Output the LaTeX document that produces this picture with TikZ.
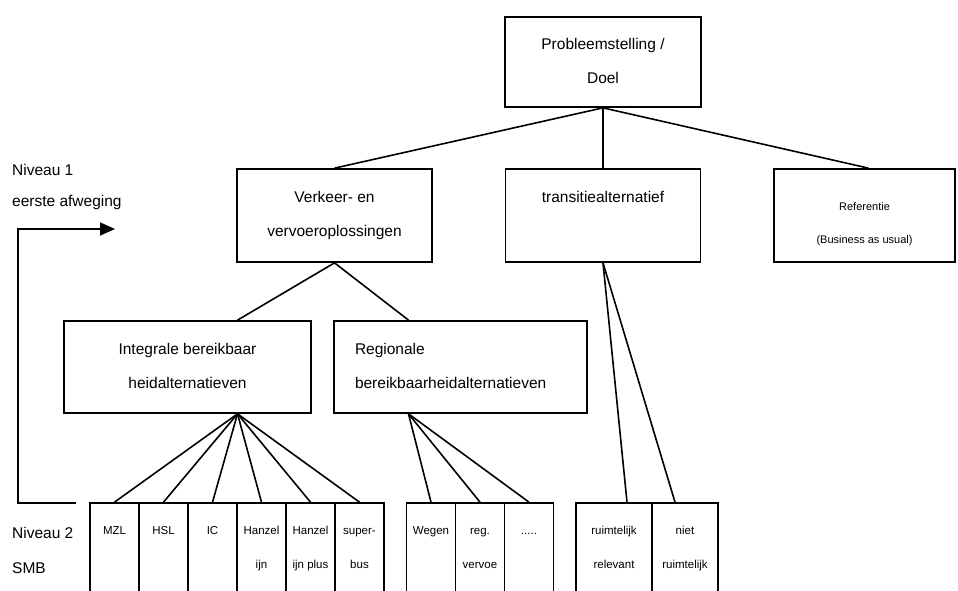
\documentclass[tikz,border=0pt]{standalone}
\usepackage{fontspec}
\setmainfont{Liberation Sans}
\usetikzlibrary{arrows.meta}
\newcommand\bigtxt{\fontsize{15.5}{34}\selectfont}
\newcommand\smalltxt{\fontsize{11.5}{34}\selectfont}
\newcommand\hl{\vphantom{Ayg}}
\tikzset{
  box/.style={draw, line width=1.7pt, inner sep=0pt, align=center, font=\bigtxt},
  cell/.style={draw, line width=1.7pt, inner sep=0pt, align=center, font=\smalltxt,
    minimum width=49pt, minimum height=91pt},
  link/.style={line width=1.6pt},
  side/.style={anchor=west, font=\fontsize{15.5}{18}\selectfont, inner sep=0pt}
}
\begin{document}
\begin{tikzpicture}[x=1pt, y=-1pt]
\useasboundingbox (0,0) rectangle (958,591);

% level 0
\node[box, minimum width=196pt, minimum height=90pt] (prob) at (603,62)
  {\hl Probleemstelling /\\\hl Doel};

% level 1
\node[box, minimum width=195pt, minimum height=93pt] (verk) at (334.5,215.5)
  {\hl Verkeer- en\\\hl vervoeroplossingen};
\node[box, minimum width=195pt, minimum height=93pt] (trans) at (603,215.5)
  {\hl transitiealternatief\\\hl};
\node[box, minimum width=181pt, minimum height=93pt, font=\fontsize{11}{33}\selectfont] (ref) at (864.5,215.5)
  {\rule{0pt}{26pt}Referentie\\\hl(Business as usual)};

% level 2
\node[box, minimum width=247pt, minimum height=92pt] (integ) at (187.5,367)
  {\hl Integrale bereikbaar\\\hl heidalternatieven};
\node[box, minimum width=253pt, minimum height=92pt, align=left, text width=211pt] (regio) at (460.5,367)
  {\hl Regionale\\\hl bereikbaarheidalternatieven};

% level 3 (boxes run off the lower edge)
\node[cell] (mzl)   at (114.5,548.5) {\hl MZL\\\hl};
\node[cell] (hsl)   at (163.5,548.5) {\hl HSL\\\hl};
\node[cell] (ic)    at (212.5,548.5) {\hl IC\\\hl};
\node[cell] (hz)    at (261.5,548.5) {\hl Hanzel\\\hl ijn};
\node[cell] (hzp)   at (310.5,548.5) {\hl Hanzel\\\hl ijn plus};
\node[cell] (sbus)  at (359.5,548.5) {\hl super-\\\hl bus};
\node[cell] (weg)   at (431,548.5)   {\hl Wegen\\\hl};
\node[cell] (regv)  at (480,548.5)   {\hl reg.\\\hl vervoe};
\node[cell] (dots)  at (529,548.5)   {\hl .....\\\hl};
\node[cell, minimum width=76pt] (ruim) at (614,548.5) {\hl ruimtelijk\\\hl relevant};
\node[cell, minimum width=66pt] (niet) at (685,548.5) {\hl niet\\\hl ruimtelijk};

% connectors
\draw[link] (prob.south) -- (verk.north);
\draw[link] (prob.south) -- (trans.north);
\draw[link] (prob.south) -- ([xshift=4pt]ref.north);
\draw[link] (verk.south) -- ([xshift=50pt]integ.north);
\draw[link] (verk.south) -- ([xshift=-52pt]regio.north);
\foreach \t in {mzl,hsl,ic,hz,hzp,sbus}
  \draw[link] ([xshift=50pt]integ.south) -- (\t.north);
\foreach \t in {weg,regv,dots}
  \draw[link] ([xshift=-52pt]regio.south) -- (\t.north);
\draw[link] (trans.south) -- ([xshift=13pt]ruim.north);
\draw[link] (trans.south) -- ([xshift=-10pt]niet.north);

% level markers
\node[side] (n1)  at (12,170) {Niveau 1};
\node[side] (n1b) at (12,202) {eerste afweging};
\node[side] (n2)  at (12,533) {Niveau 2};
\node[side] (n2b) at (12,568) {SMB};

\coordinate (a0) at (76,503);
\coordinate (a1) at (18,503);
\coordinate (a2) at (18,229);
\coordinate (a3) at (115,229);
\draw[link, -{Triangle[length=15pt,width=13pt]}] (a0) -- (a1) -- (a2) -- (a3);
\end{tikzpicture}
\end{document}
